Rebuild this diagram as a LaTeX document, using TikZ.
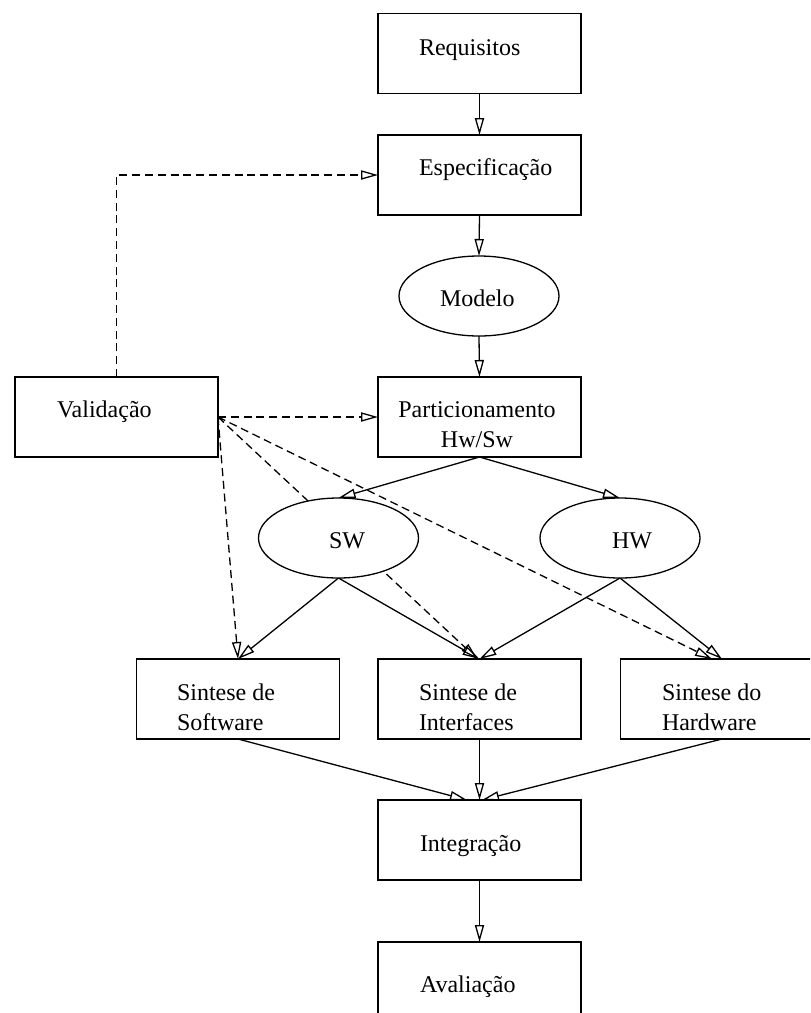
\documentclass[tikz,border=0pt]{standalone}
\usepackage{fontspec}
\setmainfont{Liberation Serif}
\usetikzlibrary{arrows.meta,shapes.geometric,backgrounds}

\begin{document}
\begin{tikzpicture}[x=0.5pt,y=-0.5pt,
  every node/.style={inner sep=0pt, outer sep=0pt},
  box/.style={draw, line width=0.65pt, minimum width=101.5pt, minimum height=40pt, fill=white},
  oval/.style={draw, ellipse, line width=0.65pt, minimum width=80pt, minimum height=40pt, fill=white},
  lbl/.style={anchor=base west, font=\fontsize{12}{15}\selectfont, align=left},
  flow/.style={line width=0.65pt, -{Triangle[open,length=8.5pt,width=4.6pt]}},
  check/.style={flow, dash pattern=on 4pt off 2.4pt},
]
\path[use as bounding box, clip] (0,0) rectangle (810,1013);

% main design flow
\node[box]  (req)   at (479.5,53.5) {};
\node[box]  (esp)   at (479.5,175)  {};
\node[oval] (mod)   at (479,296)    {};
\node[box]  (part)  at (479.5,417)  {};
\node[box]  (val)   at (116.5,417)  {};
\node[oval] (sw)    at (338.5,538)  {};
\node[oval] (hw)    at (620,538)    {};
\node[box]  (sints) at (238,699)    {};
\node[box]  (sinti) at (479.5,699)  {};
\node[box]  (sinth) at (722,699)    {};
\node[box]  (integ) at (479.5,840)  {};
\node[box]  (aval)  at (479.5,982)  {};

% labels (base anchor of a two-line label sits on its last line)
\node[lbl] (reqT)   at (419,55)  {Requisitos};
\node[lbl] (espT)   at (419,175) {Especificação};
\node[lbl] (modT)   at (440,306) {Modelo};
\node[lbl] (valT)   at (57,417)  {Validação};
\node[lbl, anchor=base, align=center] (partT) at (477,447) {Particionamento\\Hw/Sw};
\node[lbl] (swT)    at (329,548) {SW};
\node[lbl] (hwT)    at (612,548) {HW};
\node[lbl] (sintsT) at (177,730) {Sintese de\\Software};
\node[lbl] (sintiT) at (419,730) {Sintese de\\Interfaces};
\node[lbl] (sinthT) at (662,730) {Sintese do\\Hardware};
\node[lbl] (integT) at (420,851) {Integração};
\node[lbl] (avalT)  at (420,992) {Avaliação};

\begin{scope}[on background layer]
  \draw[flow] (req.south) -- (esp.north);
  \draw[flow] (esp.south) -- (mod.north);
  \draw[flow] (mod.south) -- (part.north);
  \draw[flow] (part.south) -- (sw.north);
  \draw[flow] (part.south) -- (hw.north);
  \draw[flow] (sw.south) -- (sints.north);
  \draw[flow] (sw.south) -- (sinti.north);
  \draw[flow] (hw.south) -- (sinti.north);
  \draw[flow] (hw.south) -- (sinth.north);
  \draw[flow] (sints.south) -- ([xshift=-6.25pt]integ.north);
  \draw[flow] (sinti.south) -- (integ.north);
  \draw[flow] (sinth.south) -- ([xshift=1.25pt]integ.north);
  \draw[flow] (integ.south) -- (aval.north);

  % validation feedback
  \draw[check] (val.north) |- (esp.west);
  \draw[check] (val.east) -- (part.west);
  \draw[check] (val.east) -- (sints.north);
  \draw[check] (val.east) -- ([xshift=-1pt]sinti.north);
  \draw[check] (val.east) -- ([xshift=-5pt]sinth.north);
\end{scope}
\end{tikzpicture}
\end{document}
